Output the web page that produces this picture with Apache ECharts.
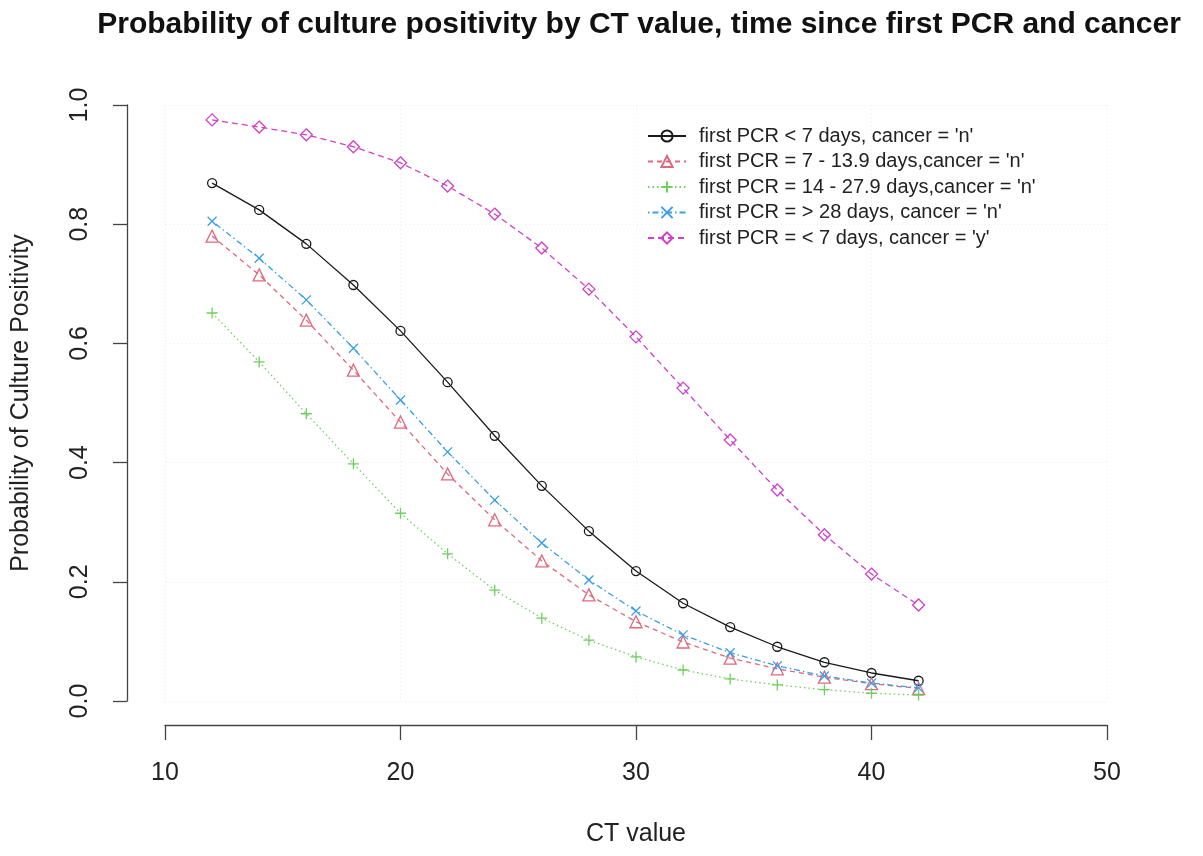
<!DOCTYPE html>
<html>
<head>
<meta charset="utf-8">
<script src="https://cdn.jsdelivr.net/npm/echarts@6/dist/echarts.min.js"></script>
<style>
html,body{margin:0;padding:0;background:#fff;}
#chart{width:1203px;height:856px;}
</style>
</head>
<body>
<div id="chart"></div>
<script>
const ctValues = [12,14,16,18,20,22,24,26,28,30,32,34,36,38,40,42];
const lt7n   = [0.869,0.824,0.767,0.698,0.621,0.535,0.445,0.361,0.285,0.218,0.164,0.124,0.091,0.065,0.047,0.034];
const d7to14n = [0.780,0.715,0.639,0.555,0.468,0.381,0.304,0.235,0.178,0.133,0.099,0.072,0.054,0.040,0.029,0.021];
const d14to28n = [0.651,0.569,0.482,0.398,0.315,0.247,0.186,0.139,0.102,0.074,0.052,0.037,0.027,0.019,0.013,0.010];
const gt28n  = [0.805,0.743,0.673,0.592,0.505,0.418,0.337,0.265,0.203,0.151,0.111,0.081,0.059,0.042,0.030,0.022];
const lt7y   = [0.975,0.963,0.950,0.930,0.903,0.864,0.817,0.760,0.691,0.611,0.525,0.438,0.354,0.279,0.213,0.161];
const seriesNames = [
  "first PCR < 7 days, cancer = 'n'",
  "first PCR = 7 - 13.9 days,cancer = 'n'",
  "first PCR = 14 - 27.9 days,cancer = 'n'",
  "first PCR = > 28 days, cancer = 'n'",
  "first PCR = < 7 days, cancer = 'y'"
];
const xTicks = [10,20,30,40,50];
const yTicks = [0,0.2,0.4,0.6,0.8,1.0];

const colors = ['#1a1a1a','#E0687C','#6FD05E','#3A9FE6','#D040C8'];
const dashes = ['solid',[5,4],[1.5,3],[1.5,3,6,3],[6,4]];
const symbols = [
  'circle',
  'triangle',
  'path://M5,0L5,10M0,5L10,5',
  'path://M0,0L10,10M10,0L0,10',
  'diamond'
];
const sizes = [9,12,11,9,12];
const dataSets = [lt7n,d7to14n,d14to28n,gt28n,lt7y];
const FONT = 'Liberation Sans, Arial, sans-serif';

const chart = echarts.init(document.getElementById('chart'));
const series = dataSets.map((arr,i)=>({
  name: seriesNames[i],
  type: 'line',
  data: ctValues.map((x,j)=>[x,arr[j]]),
  symbol: symbols[i],
  symbolSize: sizes[i],
  showAllSymbol: true,
  lineStyle: {color: colors[i], width: 1.3, type: dashes[i]},
  itemStyle: {color: 'rgba(255,255,255,0)', borderColor: colors[i], borderWidth: 1.3},
  emphasis: {disabled: true},
  animation: false,
  z: 2 + i
}));

chart.setOption({
  backgroundColor: '#ffffff',
  animation: false,
  title: {
    text: 'Probability of culture positivity by CT value, time since first PCR and cancer',
    left: 634, top: 5, textAlign: 'center',
    textStyle: {fontFamily: FONT, fontWeight: 'bold', fontSize: 30, color: '#111'}
  },
  legend: {
    orient: 'vertical', left: 642, top: 121,
    itemWidth: 38, itemHeight: 14, itemGap: 5.5,
    textStyle: {fontFamily: FONT, fontSize: 20, lineHeight: 20, color: '#222', padding: [0,0,0,8]},
    data: seriesNames
  },
  grid: {left: 165, right: 96, top: 105, bottom: 155, containLabel: false},
  xAxis: {
    type: 'value', min: xTicks[0], max: xTicks[xTicks.length-1], interval: 10,
    offset: 24,
    name: 'CT value', nameLocation: 'middle', nameGap: 97,
    nameTextStyle: {fontFamily: FONT, fontSize: 25, color: '#222'},
    axisLine: {show: true, onZero: false, lineStyle: {color: '#444', width: 1.3}},
    axisTick: {show: true, inside: false, length: 15, lineStyle: {color: '#444', width: 1.3}},
    axisLabel: {margin: 36, fontFamily: FONT, fontSize: 25, color: '#222'},
    splitLine: {show: true, lineStyle: {color: '#ebebeb', type: [1,3], width: 1}}
  },
  yAxis: {
    type: 'value', min: yTicks[0], max: yTicks[yTicks.length-1], interval: 0.2,
    offset: 38,
    name: 'Probability of Culture Positivity', nameLocation: 'middle', nameGap: 93,
    nameTextStyle: {fontFamily: FONT, fontSize: 25, color: '#222'},
    axisLine: {show: true, onZero: false, lineStyle: {color: '#444', width: 1.3}},
    axisTick: {show: true, inside: false, length: 14, lineStyle: {color: '#444', width: 1.3}},
    axisLabel: {rotate: 90, margin: 34, fontFamily: FONT, fontSize: 25, color: '#222',
      formatter: v => v.toFixed(1)},
    splitLine: {show: true, lineStyle: {color: '#ebebeb', type: [1,3], width: 1}}
  },
  series: series
});
</script>
</body>
</html>
